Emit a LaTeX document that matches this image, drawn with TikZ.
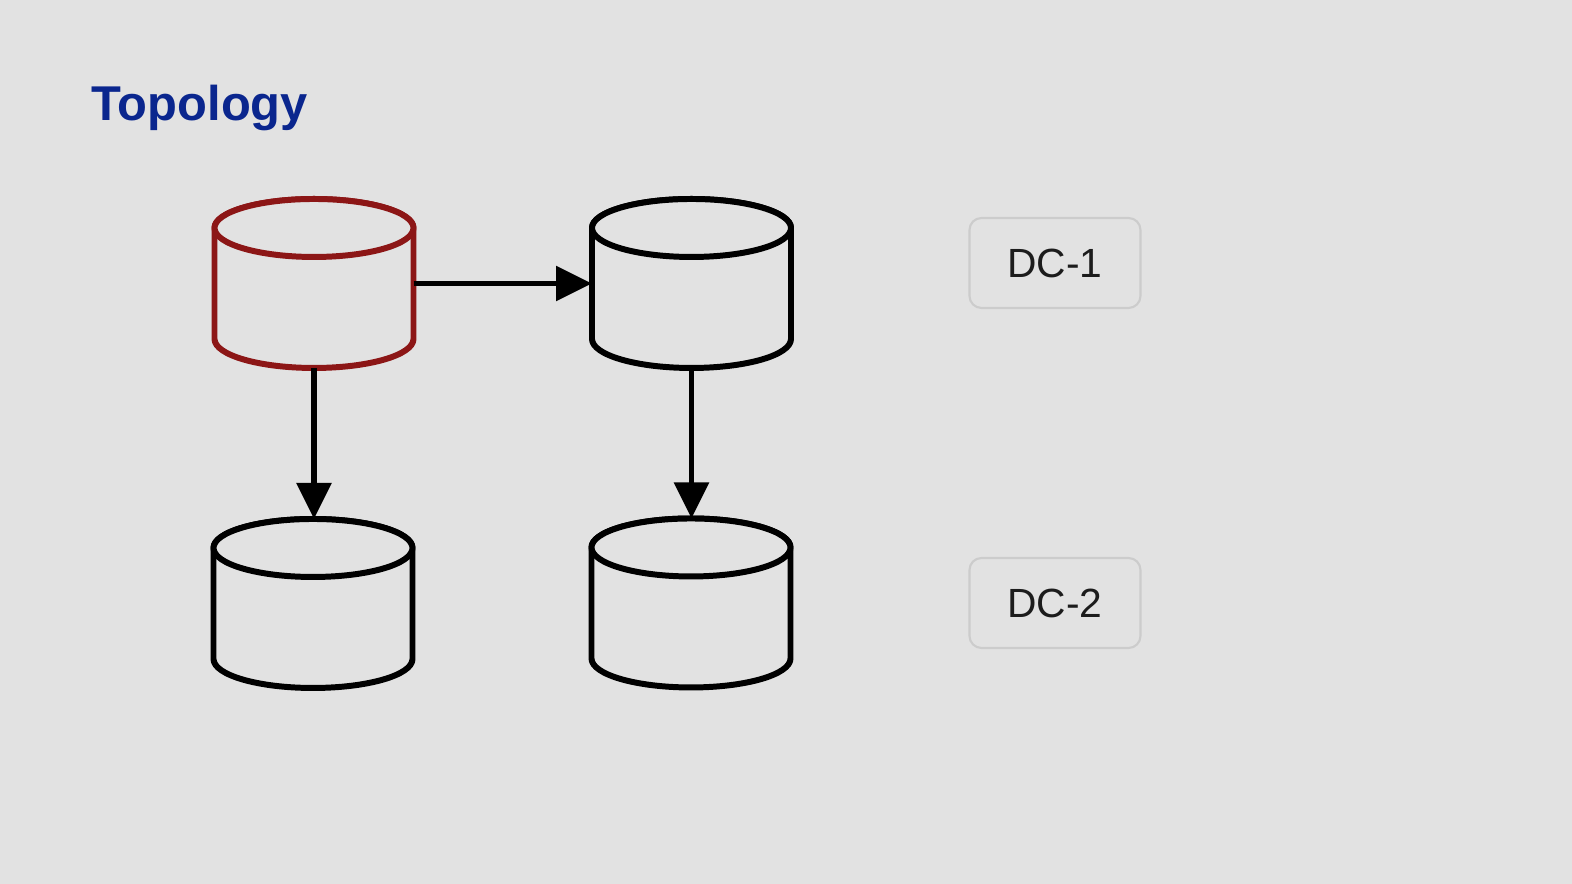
\documentclass[tikz,border=0pt]{standalone}
\usepackage{fontspec}
\setmainfont{Liberation Sans}
\usetikzlibrary{arrows.meta}
\definecolor{bg}{RGB}{226,226,226}
\definecolor{titleblue}{RGB}{10,38,142}
\definecolor{dbred}{RGB}{140,22,22}
\definecolor{boxedge}{RGB}{204,204,204}
\definecolor{dctext}{RGB}{28,28,28}
\tikzset{
  dbnode/.style={rectangle, draw=none, inner sep=0pt, outer sep=0pt, minimum width=1.99cm, minimum height=1.69cm},
  dcbox/.style={rectangle, rounded corners=0.12cm, draw=boxedge, line width=0.6pt, fill=bg,
    minimum width=1.71cm, minimum height=0.90cm, text=dctext, font=\fontsize{11.6}{13}\selectfont},
  link/.style={line width=1.6pt, draw=black, -{Triangle[length=0.36cm,width=0.34cm]}},
  cylline/.style={line width=1.7pt, fill=bg, line join=round}
}
\newcommand{\dbcyl}[2]{%
  \path[cylline, draw=#2]
    ([yshift=-0.29cm]#1.north west) -- ([yshift=0.29cm]#1.south west)
    arc[start angle=180, end angle=360, x radius=0.995cm, y radius=0.29cm]
    -- ([yshift=-0.29cm]#1.north east)
    arc[start angle=0, end angle=180, x radius=0.995cm, y radius=0.29cm] -- cycle;
  \draw[cylline, draw=#2] ([yshift=-0.29cm]#1.north) ellipse[x radius=0.995cm, y radius=0.29cm];
}
\begin{document}
\begin{tikzpicture}
\fill[bg] (0,0) rectangle (15.72,8.84);
\useasboundingbox (0,0) rectangle (15.72,8.84);

\node[anchor=base west, inner sep=0pt, text=titleblue, font=\bfseries\fontsize{13.9}{16}\selectfont] (title) at (0.91,7.63) {Topology};

\node[dbnode] (tl) at (3.14,6.005) {};
\node[dbnode] (tr) at (6.915,6.005) {};
\node[dbnode] (bl) at (3.13,2.805) {};
\node[dbnode] (br) at (6.91,2.81) {};

\dbcyl{tl}{dbred}
\dbcyl{tr}{black}
\dbcyl{bl}{black}
\dbcyl{br}{black}

\draw[link] (tl.east) -- (tr.west);
\draw[link] (tl.south) -- (tl.south |- bl.north);
\draw[link] (tr.south) -- (tr.south |- br.north);

\node[dcbox] (dc1) at (10.55,6.21) {DC-1};
\node[dcbox] (dc2) at (10.55,2.81) {DC-2};
\end{tikzpicture}
\end{document}
